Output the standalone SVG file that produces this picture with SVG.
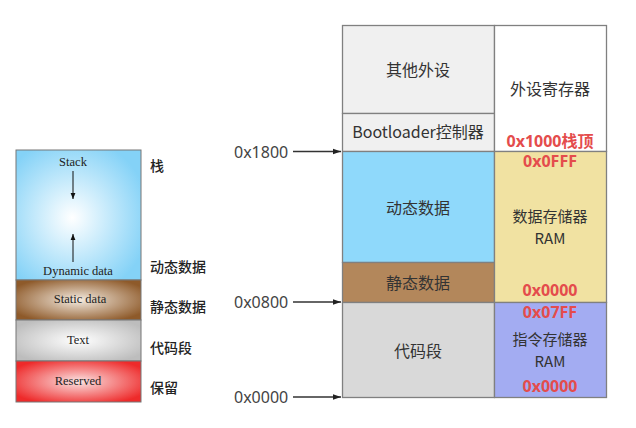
<svg xmlns="http://www.w3.org/2000/svg" width="636" height="428" viewBox="0 0 636 428">
<style>
.cn{font-family:"Noto Sans CJK SC","Noto Sans",sans-serif;font-size:16px;fill:#333;text-anchor:middle}
.cn2{font-family:"Noto Sans CJK SC","Noto Sans",sans-serif;font-size:15px;fill:#333;text-anchor:middle}
.red{font-family:"Noto Sans","Noto Sans CJK SC",sans-serif;font-size:16px;font-weight:bold;fill:#e44c4c;text-anchor:middle}
.addr{font-family:"Noto Sans","Liberation Sans",sans-serif;font-size:16px;fill:#444;text-anchor:start}
.ser{font-family:"Liberation Serif",serif;font-size:12.5px;fill:#222;text-anchor:middle}
.lab{font-family:"Noto Sans CJK SC",sans-serif;font-size:14px;font-weight:500;fill:#222;text-anchor:start}
.box{stroke:#808080;stroke-width:1.3}
.lbox{stroke:#777;stroke-width:1}
</style>
<defs>
<radialGradient id="gBlue" cx="0.45" cy="0.52" r="0.62"><stop offset="0" stop-color="#ffffff"/><stop offset="1" stop-color="#84d2f7"/></radialGradient>
<radialGradient id="gBrown" cx="0.5" cy="0.5" r="0.6"><stop offset="0" stop-color="#f4ebe0"/><stop offset="1" stop-color="#8e5a2a"/></radialGradient>
<radialGradient id="gGray" cx="0.5" cy="0.5" r="0.6"><stop offset="0" stop-color="#ffffff"/><stop offset="1" stop-color="#bdbdbd"/></radialGradient>
<radialGradient id="gRed" cx="0.5" cy="0.5" r="0.6"><stop offset="0" stop-color="#fbe4e4"/><stop offset="1" stop-color="#ee2a2a"/></radialGradient>
<marker id="ah" viewBox="0 0 10 10" refX="10" refY="5" markerWidth="8" markerHeight="8" markerUnits="userSpaceOnUse" orient="auto"><path d="M0,1.5 L10,5 L0,8.5 z" fill="#222"/></marker>
<marker id="ah2" viewBox="0 0 10 10" refX="10" refY="5" markerWidth="6" markerHeight="6" markerUnits="userSpaceOnUse" orient="auto"><path d="M0,1 L10,5 L0,9 z" fill="#111"/></marker>
</defs>

<!-- left diagram -->
<g id="left-stack">
<rect class="lbox" x="16" y="150" width="125" height="130" fill="url(#gBlue)"/>
<text class="ser" x="73" y="166">Stack</text>
<text class="ser" x="78" y="275">Dynamic data</text>
</g>
<g id="left-static"><rect class="lbox" x="16" y="280" width="125" height="40" fill="url(#gBrown)"/><text class="ser" x="80" y="303">Static data</text></g>
<g id="left-text"><rect class="lbox" x="16" y="320" width="125" height="41" fill="url(#gGray)"/><text class="ser" x="78" y="344">Text</text></g>
<g id="left-reserved"><rect class="lbox" x="16" y="361" width="125" height="41" fill="url(#gRed)"/><text class="ser" x="78" y="385">Reserved</text></g>
<g id="left-labels">
<text class="lab" x="150" y="171">栈</text>
<text class="lab" x="150" y="272">动态数据</text>
<text class="lab" x="150" y="312">静态数据</text>
<text class="lab" x="150" y="353">代码段</text>
<text class="lab" x="150" y="393">保留</text>
</g>

<!-- right diagram -->
<g id="n-other"><rect class="box" x="342.5" y="25.5" width="152" height="88" fill="#f0f0f0"/><text class="cn" x="418" y="76">其他外设</text></g>
<g id="n-boot"><rect class="box" x="342.5" y="113.5" width="152" height="38" fill="#f0f0f0"/><text class="cn" x="418" y="138">Bootloader控制器</text></g>
<g id="n-dyn"><rect class="box" x="342.5" y="151.5" width="152" height="111" fill="#8fd9fb"/><text class="cn" x="418" y="214">动态数据</text></g>
<g id="n-static"><rect class="box" x="342.5" y="262.5" width="152" height="40" fill="#b3875b"/><text class="cn" x="418" y="289">静态数据</text></g>
<g id="n-code"><rect class="box" x="342.5" y="302.5" width="152" height="95" fill="#d9d9d9"/><text class="cn" x="418" y="357">代码段</text></g>
<g id="n-periph"><rect class="box" x="494.5" y="25.5" width="112" height="126" fill="#ffffff"/><text class="cn" x="550" y="95">外设寄存器</text><text class="red" x="550" y="147">0x1000栈顶</text></g>
<g id="n-dram"><rect class="box" x="494.5" y="151.5" width="112" height="151" fill="#f1e2a2"/><text class="red" x="550" y="167">0x0FFF</text><text class="cn2" x="550" y="222">数据存储器</text><text class="cn2" x="550" y="244">RAM</text><text class="red" x="550" y="296">0x0000</text></g>
<g id="n-iram"><rect class="box" x="494.5" y="302.5" width="112" height="95" fill="#a3acf2"/><text class="red" x="550" y="318">0x07FF</text><text class="cn2" x="550" y="345">指令存储器</text><text class="cn2" x="550" y="367">RAM</text><text class="red" x="550" y="392">0x0000</text></g>

<g id="addr-labels">
<text class="addr" x="234" y="158">0x1800</text>
<text class="addr" x="234" y="308">0x0800</text>
<text class="addr" x="234" y="403">0x0000</text>
</g>

<g id="connectors" stroke="#333" stroke-width="1.3" fill="none">
<line x1="293" y1="151.5" x2="341" y2="151.5" marker-end="url(#ah)"/>
<line x1="293" y1="302" x2="341" y2="302" marker-end="url(#ah)"/>
<line x1="293" y1="397" x2="341" y2="397" marker-end="url(#ah)"/>
<line x1="73" y1="171" x2="73" y2="199" stroke="#111" stroke-width="1" marker-end="url(#ah2)"/>
<line x1="73" y1="262" x2="73" y2="234" stroke="#111" stroke-width="1" marker-end="url(#ah2)"/>
</g>
</svg>
